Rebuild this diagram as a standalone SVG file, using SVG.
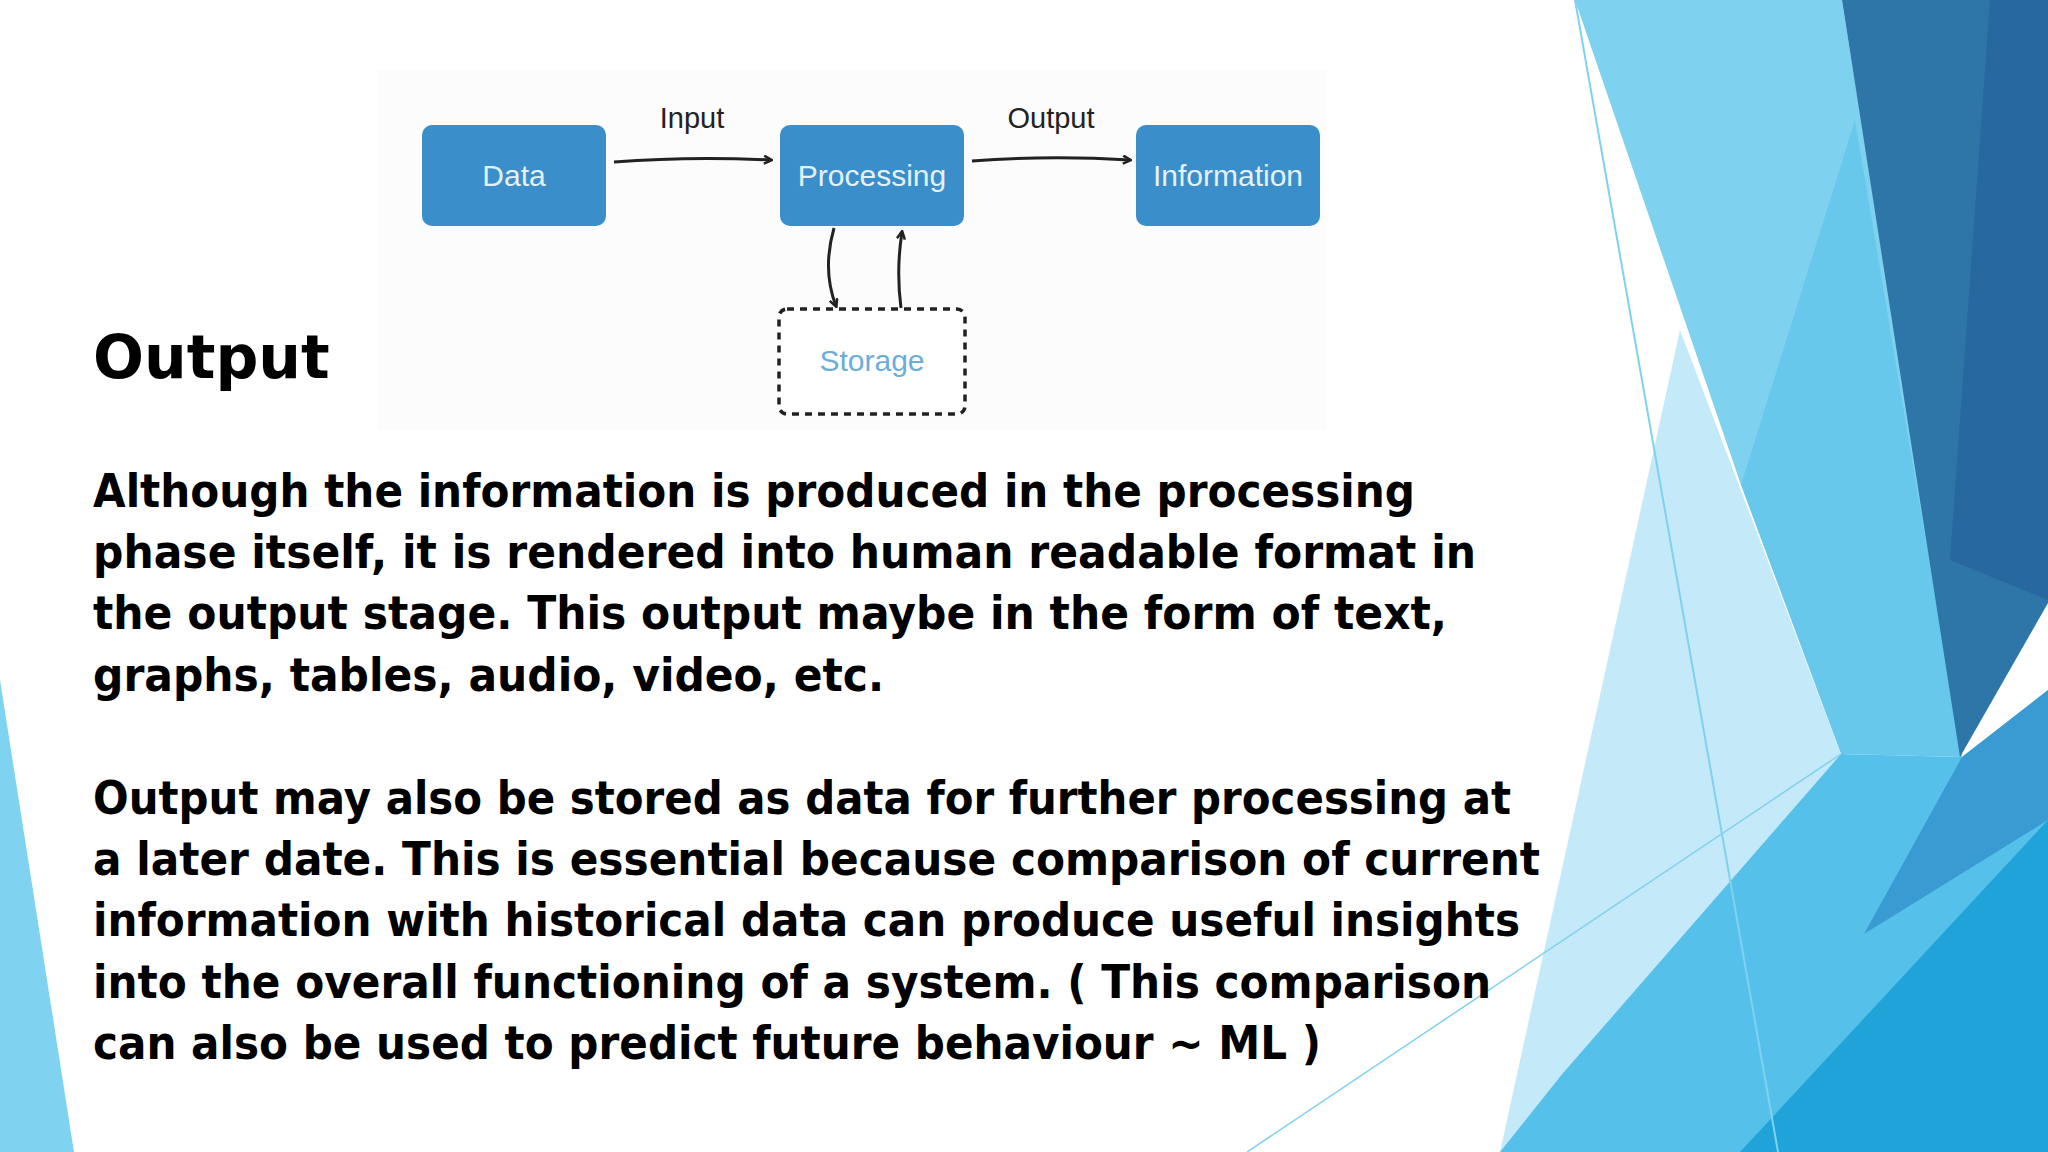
<svg xmlns="http://www.w3.org/2000/svg" width="2048" height="1152" viewBox="0 0 2048 1152">
<defs>
<marker id="ah" markerWidth="10" markerHeight="10" refX="8" refY="5" orient="auto" markerUnits="userSpaceOnUse"><path d="M1,1 L9,5 L1,9" fill="none" stroke="#222" stroke-width="2.5"/></marker>
<style>
.box{fill:#3a8ec9;}
.bt{font-family:"Liberation Sans",Arial,sans-serif;font-size:30px;fill:#e4f1fb;text-anchor:middle;}
.lb{font-family:"Liberation Sans",Arial,sans-serif;font-size:29px;fill:#222;text-anchor:middle;}
.body{font-family:"DejaVu Sans",Verdana,sans-serif;font-weight:bold;font-size:46px;fill:#000;}
.con{fill:none;stroke:#222;stroke-width:3;marker-end:url(#ah);}
</style>
</defs>
<rect width="2048" height="1152" fill="#fff"/>
<g id="background">
<polygon points="0,680 0,1152 74,1152" fill="#80d3f0"/>
<polygon points="1575,0 1842,0 1962,757 1741,485" fill="#7fd2ef"/>
<polygon points="1741,485 1855,120 1962,757 1841,754" fill="#67c8ec"/>
<polygon points="1680,330 1841,754 1563,1073 1554,1152 1500,1152" fill="#c4e9f8"/>
<polygon points="1842,0 2048,0 2048,603 1960,757" fill="#2e75a8"/>
<polygon points="1990,0 2048,0 2048,600 1950,560" fill="#2768a0"/>
<polygon points="1563,1073 1841,754 1962,757 2048,690 2048,1152 1500,1152" fill="#55c1ea"/>
<polygon points="1864,934 1962,757 2048,690 2048,820" fill="#3a9bd3"/>
<polygon points="1740,1152 2048,820 2048,1152" fill="#20a3d9"/>
<line x1="1575" y1="0" x2="1778" y2="1152" stroke="#7fd2ef" stroke-width="2"/>
<line x1="1247" y1="1152" x2="1841" y2="754" stroke="#7fd2ef" stroke-width="1.5"/>
</g>
<rect x="378" y="70" width="948" height="360" fill="#fcfcfc"/>
<g id="connectors">
<path class="con" d="M614,162 Q690,156 771,160"/>
<path class="con" d="M972,161 Q1050,155 1130,160"/>
<path class="con" d="M834,228 Q822,270 836,306"/>
<path class="con" d="M901,308 Q896,270 902,232"/>
</g>
<text class="lb" x="692" y="128">Input</text>
<text class="lb" x="1051" y="128">Output</text>
<g id="data"><rect class="box" x="422" y="125" width="184" height="101" rx="10"/><text class="bt" x="514" y="186">Data</text></g>
<g id="processing"><rect class="box" x="780" y="125" width="184" height="101" rx="10"/><text class="bt" x="872" y="186">Processing</text></g>
<g id="information"><rect class="box" x="1136" y="125" width="184" height="101" rx="10"/><text class="bt" x="1228" y="186">Information</text></g>
<g id="storage"><rect x="779" y="309" width="186" height="105" rx="8" fill="#fff" stroke="#222" stroke-width="3.5" stroke-dasharray="7,6"/><text class="bt" x="872" y="371" style="fill:#6aaedc">Storage</text></g>
<text x="93" y="378" font-family="DejaVu Sans,Verdana,sans-serif" font-weight="bold" font-size="60" fill="#000">Output</text>
<g class="body">
<text x="93" y="507" textLength="1322" lengthAdjust="spacingAndGlyphs">Although the information is produced in the processing</text>
<text x="93" y="568" textLength="1383" lengthAdjust="spacingAndGlyphs">phase itself, it is rendered into human readable format in</text>
<text x="93" y="629" textLength="1354" lengthAdjust="spacingAndGlyphs">the output stage. This output maybe in the form of text,</text>
<text x="93" y="691" textLength="791" lengthAdjust="spacingAndGlyphs">graphs, tables, audio, video, etc.</text>
<text x="93" y="814" textLength="1418" lengthAdjust="spacingAndGlyphs">Output may also be stored as data for further processing at</text>
<text x="93" y="875" textLength="1447" lengthAdjust="spacingAndGlyphs">a later date. This is essential because comparison of current</text>
<text x="93" y="936" textLength="1427" lengthAdjust="spacingAndGlyphs">information with historical data can produce useful insights</text>
<text x="93" y="998" textLength="1398" lengthAdjust="spacingAndGlyphs">into the overall functioning of a system. ( This comparison</text>
<text x="93" y="1059" textLength="1228" lengthAdjust="spacingAndGlyphs">can also be used to predict future behaviour ~ ML )</text>
</g>
</svg>
